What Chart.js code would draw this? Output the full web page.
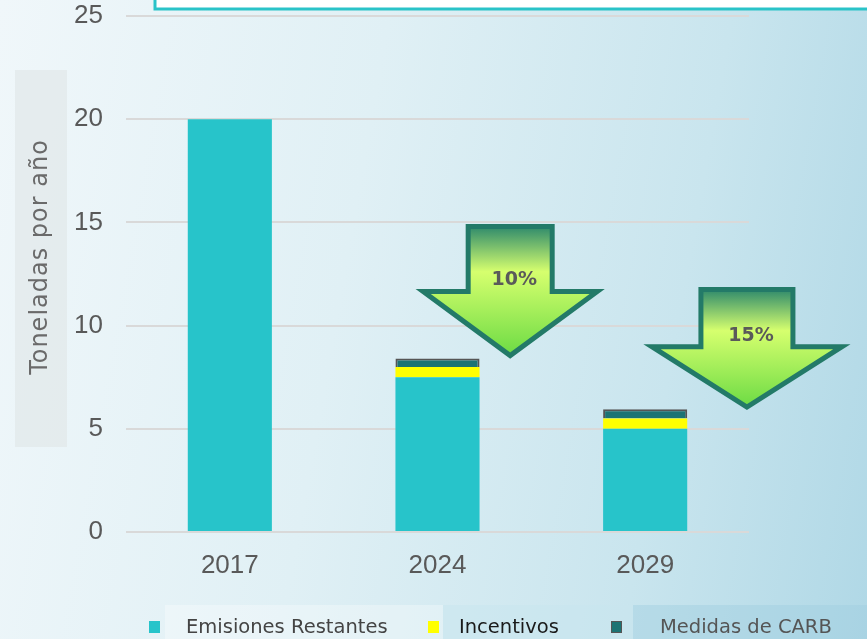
<!DOCTYPE html>
<html>
<head>
<meta charset="utf-8">
<script src="https://cdn.jsdelivr.net/npm/chart.js@4"></script>
<style>
  html, body { margin: 0; padding: 0; }
  body {
    width: 867px; height: 639px; overflow: hidden;
    background: linear-gradient(100deg, #f0f7fa 0%, #e0f0f5 40%, #c9e5ee 75%, #b0d8e6 100%);
  }
  #wrap { position: relative; width: 867px; height: 639px; }
</style>
</head>
<body>
<div id="wrap"><canvas id="c" width="867" height="639"></canvas></div>
<script>
const categories = ['2017', '2024', '2029'];
const emisionesRestantes = [20, 7.5, 5.0];
const incentivos = [null, 0.5, 0.5];
const medidasCarb = [null, 0.4, 0.45];
const yTicks = [0, 5, 10, 15, 20, 25];
const reductionLabels = ['10%', '15%'];

const TEXT_FONT = '"DejaVu Sans", sans-serif';
const TICK_FONT = { family: '"Liberation Sans", Arial, sans-serif', size: 26 };

// arrow shape: drawn from the category after which it sits
function drawArrow(ctx, cx, top, headY, tip, shaftHalf, headHalf, label, labelY) {
    ctx.save();
    ctx.beginPath();
    ctx.moveTo(cx - shaftHalf, top);
    ctx.lineTo(cx + shaftHalf, top);
    ctx.lineTo(cx + shaftHalf, headY);
    ctx.lineTo(cx + headHalf, headY);
    ctx.lineTo(cx, tip);
    ctx.lineTo(cx - headHalf, headY);
    ctx.lineTo(cx - shaftHalf, headY);
    ctx.closePath();
    const g = ctx.createLinearGradient(0, top, 0, tip);
    g.addColorStop(0, '#2f8a6c');
    g.addColorStop(0.35, '#d6ff6e');
    g.addColorStop(1, '#6cdb44');
    ctx.fillStyle = g;
    ctx.fill();
    ctx.lineWidth = 5;
    ctx.lineJoin = 'miter';
    ctx.strokeStyle = '#237a68';
    ctx.stroke();
    ctx.fillStyle = '#5a5a5a';
    ctx.font = 'bold 19px ' + TEXT_FONT;
    ctx.textAlign = 'center';
    ctx.textBaseline = 'middle';
    ctx.fillText(label, cx + 4, labelY);
    ctx.restore();
}

const decor = {
    id: 'decor',
    beforeDraw(chart) {
        const ctx = chart.ctx;
        ctx.save();
        // legend strips
        ctx.fillStyle = 'rgba(255,255,255,0.3)';
        ctx.fillRect(165, 605, 278, 34);
        ctx.fillStyle = 'rgba(200,230,238,0.55)';
        ctx.fillRect(443, 605, 190, 34);
        ctx.fillStyle = 'rgba(160,206,224,0.45)';
        ctx.fillRect(633, 605, 234, 34);
        // axis title box
        ctx.fillStyle = 'rgba(225,232,234,0.75)';
        ctx.fillRect(15, 70, 52, 377);
        // top box
        ctx.fillStyle = '#ffffff';
        ctx.fillRect(155, -4, 720, 13);
        ctx.strokeStyle = '#2ac3c8';
        ctx.lineWidth = 3;
        ctx.strokeRect(155, -4, 720, 13);
        // axis title
        ctx.translate(41, 257);
        ctx.rotate(-Math.PI / 2);
        ctx.fillStyle = '#6a6a6a';
        ctx.font = '24px ' + TEXT_FONT;
        ctx.letterSpacing = '1px';
        ctx.textAlign = 'center';
        ctx.textBaseline = 'middle';
        ctx.fillText('Toneladas por año', 0, 0);
        ctx.restore();
    },
    afterDraw(chart) {
        const ctx = chart.ctx;
        const x = chart.scales.x, y = chart.scales.y;
        const step = x.getPixelForValue(1) - x.getPixelForValue(0);
        drawArrow(ctx, x.getPixelForValue(1) + step * 0.35, y.getPixelForValue(14.8), y.getPixelForValue(11.65),
            y.getPixelForValue(8.55), 42, 87, reductionLabels[0], y.getPixelForValue(12.2));
        drawArrow(ctx, x.getPixelForValue(2) + step * 0.49, y.getPixelForValue(11.75), y.getPixelForValue(8.98),
            y.getPixelForValue(6.05), 46, 95, reductionLabels[1], y.getPixelForValue(9.5));

        // legend
        const items = [
            { ds: 0, box: 149, text: 186, color: '#444' },
            { ds: 1, box: 428, text: 459, color: '#1a1a1a' },
            { ds: 2, box: 611, text: 660, color: '#555' }
        ];
        ctx.save();
        ctx.font = '19.5px ' + TEXT_FONT;
        ctx.textBaseline = 'middle';
        items.forEach(it => {
            const d = chart.data.datasets[it.ds];
            ctx.fillStyle = d.backgroundColor;
            ctx.fillRect(it.box, 621, 11, 12);
            if (d.borderWidth) {
                ctx.strokeStyle = d.borderColor;
                ctx.lineWidth = 1;
                ctx.strokeRect(it.box + 0.5, 621.5, 10, 11);
            }
            ctx.fillStyle = it.color;
            ctx.fillText(d.label, it.text, 628);
        });
        ctx.restore();
    }
};

new Chart(document.getElementById('c'), {
    type: 'bar',
    data: {
        labels: categories,
        datasets: [
            { label: 'Emisiones Restantes', data: emisionesRestantes, backgroundColor: '#27c4ca', borderWidth: 0 },
            { label: 'Incentivos', data: incentivos, backgroundColor: '#ffff00', borderWidth: 0 },
            { label: 'Medidas de CARB', data: medidasCarb, backgroundColor: '#1c7373', borderColor: '#555555', borderWidth: 2 }
        ]
    },
    options: {
        responsive: false,
        animation: false,
        layout: { padding: { top: 16, right: 118, left: 0, bottom: 0 } },
        datasets: { bar: { categoryPercentage: 1, barPercentage: 0.405 } },
        plugins: {
            legend: { display: false },
            tooltip: { enabled: false }
        },
        scales: {
            x: {
                stacked: true,
                afterFit: (s) => { s.height = 107; s.paddingLeft = 0; s.paddingRight = 0; },
                grid: { display: false, drawTicks: false },
                border: { display: false },
                ticks: { color: '#595959', font: TICK_FONT, padding: 18 }
            },
            y: {
                stacked: true,
                min: 0,
                max: 25,
                afterFit: (s) => { s.width = 126; s.paddingTop = 0; s.paddingBottom = 0; },
                afterBuildTicks: (s) => { s.ticks = yTicks.map(v => ({ value: v })); },
                grid: { color: '#d9d9d9', lineWidth: 2, drawTicks: false },
                border: { display: false },
                ticks: { color: '#595959', font: TICK_FONT, padding: 23 }
            }
        }
    },
    plugins: [decor]
});
</script>
</body>
</html>
